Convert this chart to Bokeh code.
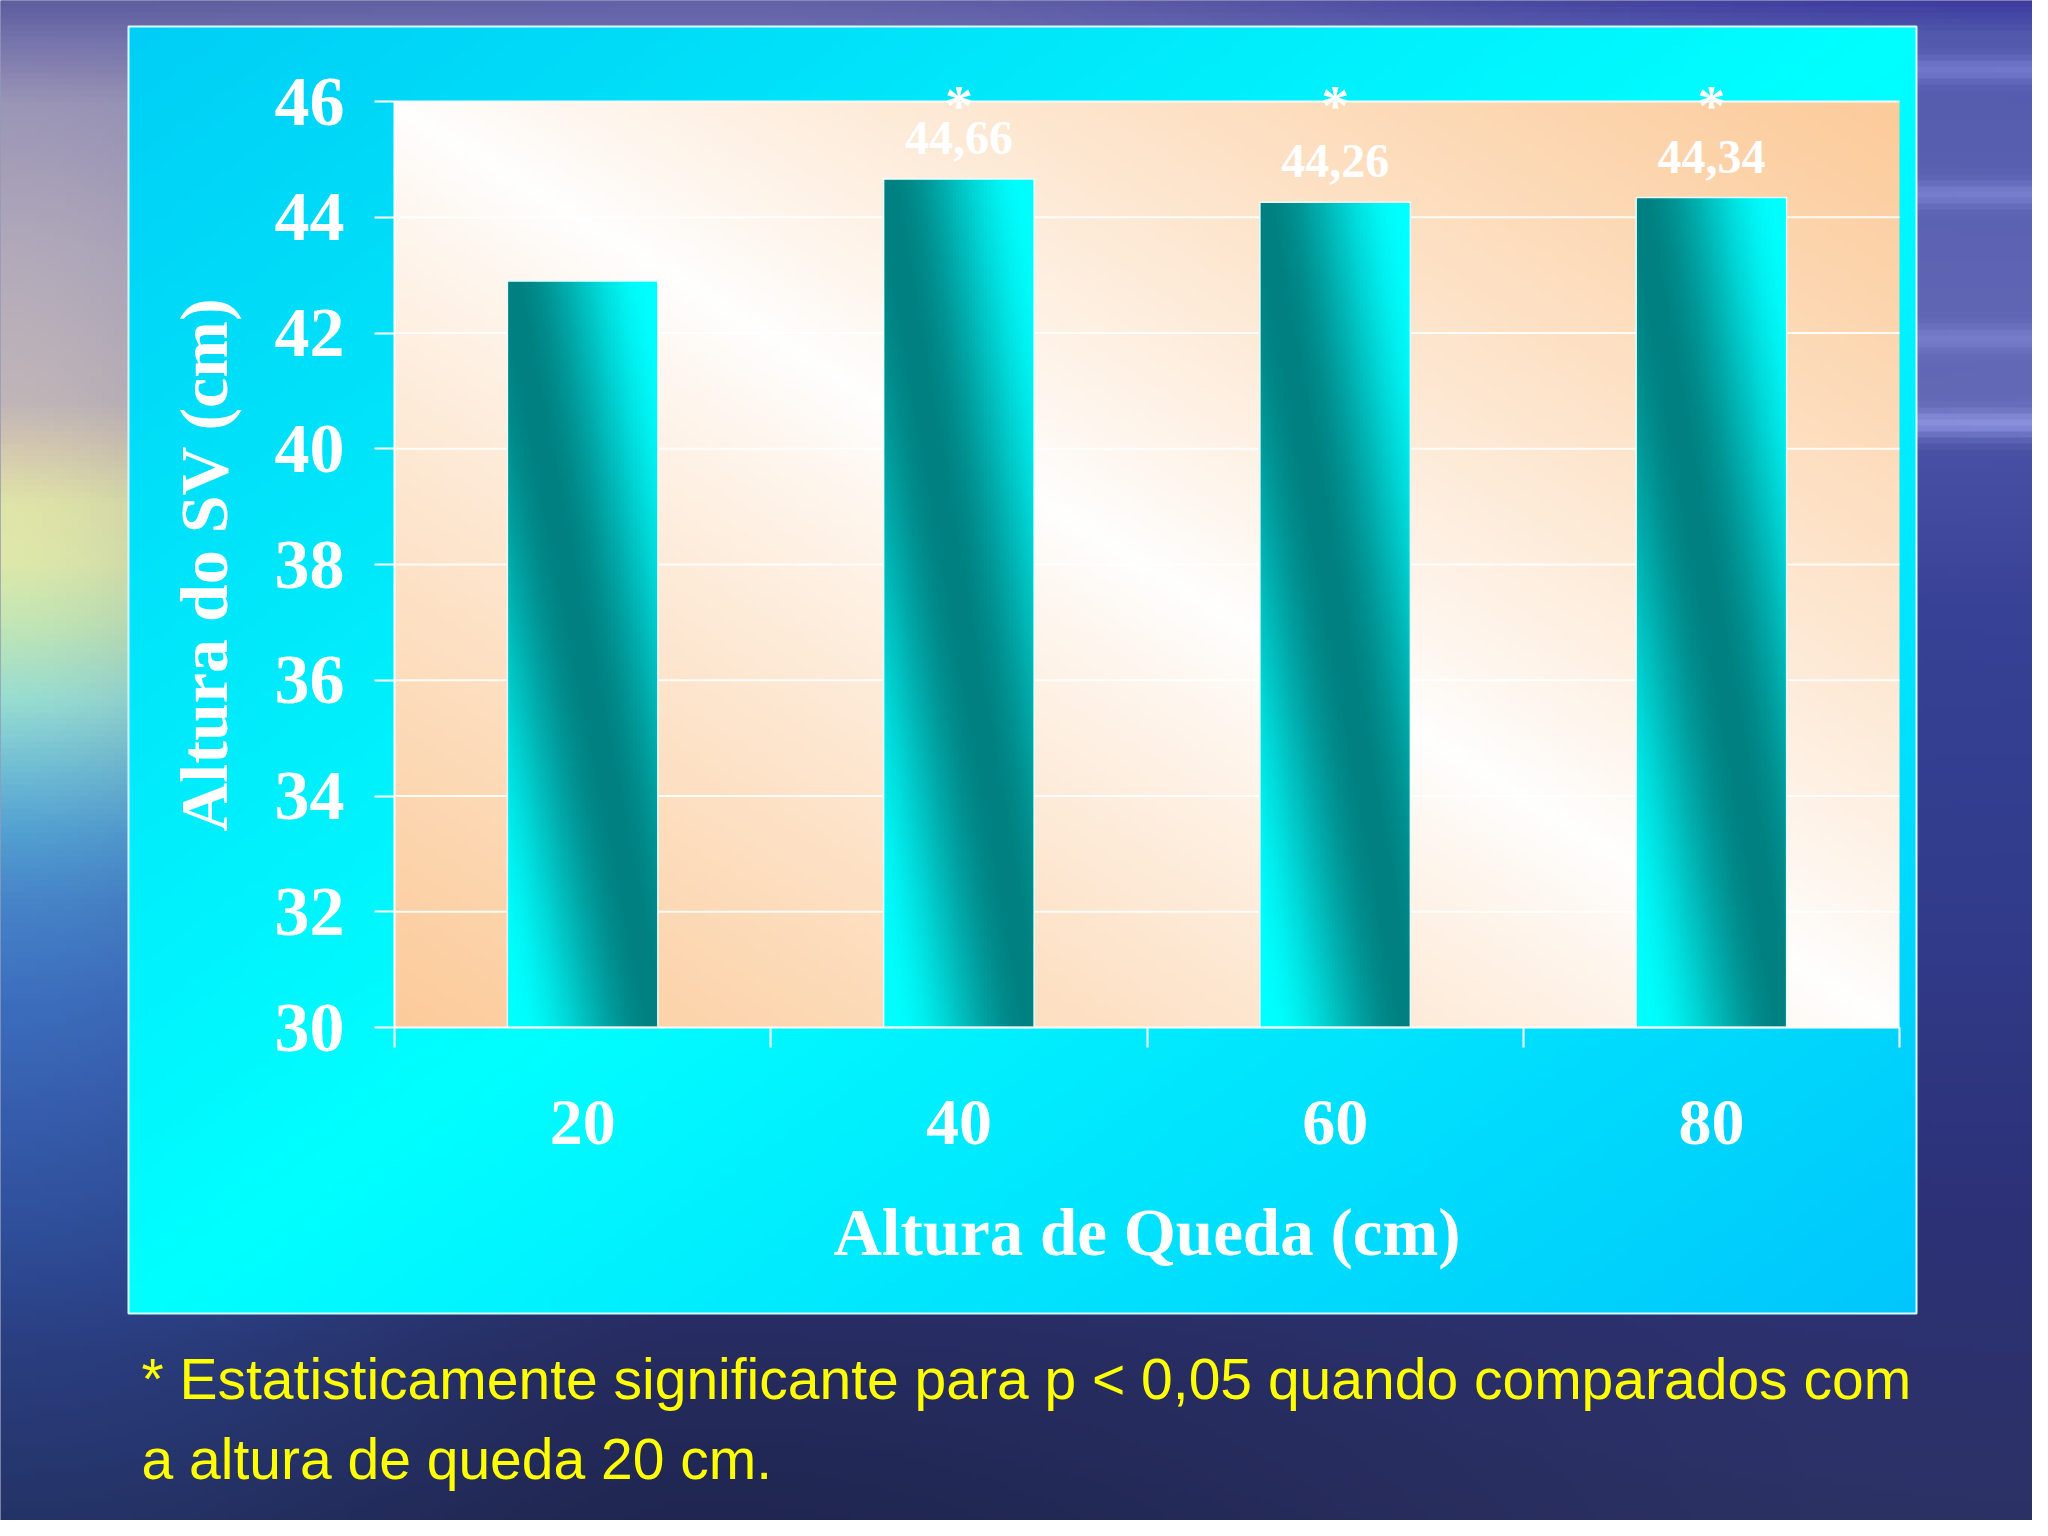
import numpy as np
from bokeh.plotting import figure
from bokeh.models import Range1d, FixedTicker, Label, ColumnDataSource
from bokeh.core.properties import value
from bokeh.embed import file_html
from bokeh.resources import INLINE

# ---------------- data ----------------
categories = ["20", "40", "60", "80"]            # Altura de Queda (cm)
sv_height = [42.9, 44.66, 44.26, 44.34]           # Altura do SV (cm)
value_labels = ["", "44,66", "44,26", "44,34"]
significance = ["", "*", "*", "*"]
y_ticks = [30, 32, 34, 36, 38, 40, 42, 44, 46]

x_title = "Altura de Queda (cm)"
y_title = "Altura do SV (cm)"
footnote_lines = [
    "* Estatisticamente significante para p < 0,05 quando comparados com",
    "a altura de queda 20 cm.",
]

# ---------------- layout (reference pixel geometry) ----------------
FIG_W, FIG_H = 2032, 1520
OFF = 0
PLOT_L, PLOT_R, PLOT_T, PLOT_B = 394, 1899, 101, 1027
PANEL_L, PANEL_R, PANEL_T, PANEL_B = 128, 1916, 26, 1313
BAR_W = 0.4

n = len(categories)
y_lo, y_hi = y_ticks[0], y_ticks[-1]
SX = (PLOT_R - PLOT_L) / n
SY = (PLOT_B - PLOT_T) / (y_hi - y_lo)


def dx(rx):
    return (rx - PLOT_L) / SX


def dy(ry):
    return y_lo + (PLOT_B - ry) / SY


def to_rgba(arr):
    """arr (H, W, 3) float, row 0 = bottom."""
    a = np.clip(arr, 0, 255).astype(np.uint8)
    H, W, _ = a.shape
    out = np.zeros((H, W), dtype=np.uint32)
    view = out.view(dtype=np.uint8).reshape((H, W, 4))
    view[..., :3] = a
    view[..., 3] = 255
    return np.ascontiguousarray(out)


def profile(ys, keys, cols):
    cols = np.array(cols, dtype=float)
    return np.stack([np.interp(ys, keys, cols[:, k]) for k in range(3)], axis=-1)


def smooth(t):
    t = np.clip(t, 0, 1)
    return t * t * (3 - 2 * t)


# ---- slide background (sky / sea) ----
RES = 6
gx = np.arange(OFF, OFF + FIG_W, RES) + RES / 2
gy = np.arange(OFF + FIG_H, OFF, -RES) - RES / 2   # row 0 = bottom
Lp = profile(gy,
             [0, 40, 100, 250, 400, 440, 500, 560, 620, 700, 770, 830, 900, 1000, 1100, 1250, 1350, 1536],
             [(95, 95, 160), (120, 118, 172), (155, 150, 182), (178, 170, 186), (192, 182, 184),
              (210, 198, 176), (224, 228, 168), (222, 232, 170), (195, 230, 180), (150, 220, 210),
              (110, 188, 212), (82, 160, 210), (70, 132, 200), (60, 110, 190), (55, 95, 175),
              (46, 76, 150), (42, 62, 128), (36, 50, 100)])
Mp = profile(gy, [0, 26, 700, 1313, 1400, 1536],
             [(100, 98, 168), (108, 108, 175), (60, 70, 140), (40, 46, 100), (36, 42, 90), (32, 38, 80)])
Rp = profile(gy, [0, 30, 200, 420, 450, 600, 900, 1200, 1536],
             [(62, 62, 160), (82, 88, 172), (92, 98, 178), (100, 106, 182), (72, 80, 165),
              (56, 66, 150), (50, 60, 140), (45, 50, 120), (45, 50, 100)])
for yc, amp in [(65, 30), (190, 28), (335, 22), (420, 38)]:
    Rp += amp * np.exp(-((gy - yc) / 13.0) ** 2)[:, None]
w1 = smooth(gx / 700.0)[None, :, None]
w2 = smooth((gx - 700) / 1348.0)[None, :, None]
left_mix = Lp[:, None, :] * (1 - w1) + Mp[:, None, :] * w1
right_mix = Mp[:, None, :] * (1 - w2) + Rp[:, None, :] * w2
bg = np.where((gx < 700)[None, :, None], left_mix, right_mix)
bg_img = to_rgba(bg)

# ---- cyan chart panel ----
RES2 = 6
px_ = np.arange(PANEL_L, PANEL_R, RES2) + RES2 / 2
py_ = np.arange(PANEL_B, PANEL_T, -RES2) - RES2 / 2
u = ((px_ - PANEL_L) / (PANEL_R - PANEL_L))[None, :]
vt = ((py_ - PANEL_T) / (PANEL_B - PANEL_T))[:, None]
s = (u + vt) / 2
panel = np.stack([np.interp(s, [0, 0.5, 1], [c0, c1, c2]) for c0, c1, c2 in
                  [(0, 0, 0), (206, 255, 198), (246, 255, 252)]], axis=-1)
panel_img = to_rgba(panel)

# ---- peach plot area ----
qx = np.arange(PLOT_L, PLOT_R, RES2) + RES2 / 2
qy = np.arange(PLOT_B, PLOT_T, -RES2) - RES2 / 2
u2 = ((qx - PLOT_L) / (PLOT_R - PLOT_L))[None, :]
vt2 = ((qy - PLOT_T) / (PLOT_B - PLOT_T))[:, None]
s2 = (u2 - vt2 + 1) / 2
amt = (np.abs(s2 - 0.5) * 2) ** 0.85
white = np.array([255, 255, 255], float)
peach = np.array([252, 203, 154], float)
area = white + (peach - white) * amt[..., None]
area_img = to_rgba(area)

# ---- bar gradient texture (diagonal teal band) ----
TH, TW = 240, 48
tv = (np.arange(TH) / (TH - 1))[:, None]
tu = (np.arange(TW) / (TW - 1))[None, :]
t = smooth(np.abs(tu + tv - 1.0) / 0.95)
dark = np.array([0, 128, 128], float)
cyan = np.array([0, 255, 255], float)
bar_tex = to_rgba(dark + (cyan - dark) * t[..., None])

# ---------------- figure ----------------
p = figure(width=FIG_W, height=FIG_H,
           x_range=Range1d(dx(OFF), dx(OFF + FIG_W)),
           y_range=Range1d(dy(OFF + FIG_H), dy(OFF)),
           output_backend="svg", toolbar_location=None, min_border=0)
p.min_border_left = p.min_border_right = p.min_border_top = p.min_border_bottom = 0
p.outline_line_color = None
p.background_fill_color = "#2c3474"
p.border_fill_color = "#2c3474"
p.xgrid.visible = False
p.ygrid.visible = False

p.image_rgba(image=[bg_img], x=dx(OFF), y=dy(OFF + FIG_H),
             dw=dx(OFF + FIG_W) - dx(OFF), dh=dy(OFF) - dy(OFF + FIG_H), level="image")
p.image_rgba(image=[panel_img], x=dx(PANEL_L), y=dy(PANEL_B),
             dw=dx(PANEL_R) - dx(PANEL_L), dh=dy(PANEL_T) - dy(PANEL_B), level="image")
p.quad(left=dx(PANEL_L), right=dx(PANEL_R), bottom=dy(PANEL_B), top=dy(PANEL_T),
       fill_alpha=0, line_color="#d8fbff", line_width=2, level="image")
p.image_rgba(image=[area_img], x=0, y=y_lo, dw=n, dh=y_hi - y_lo, level="image")

# grid lines (inside plot area only)
p.segment(x0=0, x1=n, y0=y_ticks[1:], y1=y_ticks[1:], line_color="white",
          line_width=2, line_alpha=0.9, level="underlay")

centers = [i + 0.5 for i in range(n)]
src = ColumnDataSource(dict(
    cat=categories,
    x=centers,
    left=[c - BAR_W / 2 for c in centers],
    val=sv_height,
    h=[v - y_lo for v in sv_height],
    label=value_labels,
    sig=significance,
    tex=[bar_tex] * n,
))

p.image_rgba(image="tex", x="left", y=y_lo, dw=BAR_W, dh="h", source=src)
p.vbar(x="x", top="val", bottom=y_lo, width=BAR_W, source=src,
       fill_alpha=0, line_color="#e6ffff", line_width=1.5)

p.text(x="x", y="val", text="label", source=src, text_align="center",
       text_baseline="alphabetic", y_offset=-41, text_color="white",
       text_font=value("Liberation Serif"), text_font_style="bold",
       text_font_size="48px")
p.text(x="x", y=y_hi, text="sig", source=src, text_align="center",
       text_baseline="alphabetic", y_offset=4, text_color="white",
       text_font=value("Liberation Serif"), text_font_style="bold",
       text_font_size="56px")

# ---------------- axes ----------------
yax = p.yaxis[0]
yax.fixed_location = 0
yax.bounds = (y_lo, y_hi)
yax.ticker = FixedTicker(ticks=y_ticks, minor_ticks=[])
yax.axis_line_color = "white"
yax.axis_line_width = 2
yax.major_tick_line_color = "white"
yax.major_tick_line_width = 2
yax.major_tick_out = 20
yax.major_tick_in = 0
yax.minor_tick_line_color = None
yax.major_label_text_font = "Liberation Serif"
yax.major_label_text_font_style = "bold"
yax.major_label_text_font_size = "70px"
yax.major_label_text_color = "white"
yax.major_label_standoff = 30
yax.axis_label = y_title
yax.axis_label_text_font = "Liberation Serif"
yax.axis_label_text_font_style = "bold"
yax.axis_label_text_font_size = "68px"
yax.axis_label_text_color = "white"
yax.axis_label_standoff = 30

xax = p.xaxis[0]
xax.fixed_location = y_lo
xax.bounds = (0, n)
xax.ticker = FixedTicker(ticks=centers, minor_ticks=list(range(n + 1)))
xax.major_label_overrides = {c: lab for c, lab in zip(centers, categories)}
xax.axis_line_color = "white"
xax.axis_line_width = 2
xax.major_tick_line_color = None
xax.major_tick_out = 0
xax.major_tick_in = 0
xax.minor_tick_line_color = "white"
xax.minor_tick_line_width = 2
xax.minor_tick_out = 20
xax.minor_tick_in = 0
xax.major_label_text_font = "Liberation Serif"
xax.major_label_text_font_style = "bold"
xax.major_label_text_font_size = "66px"
xax.major_label_text_color = "white"
xax.major_label_standoff = 53
xax.axis_label = x_title
xax.axis_label_text_font = "Liberation Serif"
xax.axis_label_text_font_style = "bold"
xax.axis_label_text_font_size = "67px"
xax.axis_label_text_color = "white"
xax.axis_label_standoff = 48

# ---------------- footnote ----------------
for line, base in zip(footnote_lines, [1378, 1458]):
    p.add_layout(Label(x=dx(141), y=dy(base), text=line, text_align="left",
                       text_baseline="alphabetic", text_color="#ffff00",
                       text_font="Liberation Sans", text_font_size="57px"))

open("out.html", "w").write(file_html(p, INLINE))
